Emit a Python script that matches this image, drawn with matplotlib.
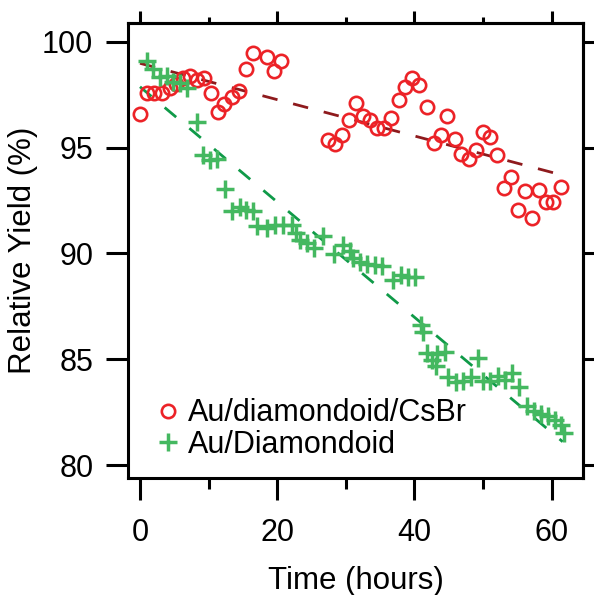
import matplotlib
matplotlib.use("Agg")
import matplotlib.pyplot as plt
import numpy as np

plt.rcParams['font.family'] = ['Liberation Sans', 'DejaVu Sans']

# ---- data ----
csbr_time = [0.0, 1.0, 2.1, 3.2, 4.3, 5.3, 6.3, 7.3, 8.3, 9.3, 10.3, 11.3, 12.3, 13.4,
             14.4, 15.4, 16.4, 18.5, 19.5, 20.6,
             27.4, 28.4, 29.4, 30.4, 31.5, 32.5, 33.5, 34.5, 35.6, 36.6, 37.7, 38.6,
             39.7, 40.7, 41.8, 42.9, 43.9, 44.8, 45.9, 46.8, 47.9, 49.0, 50.0, 51.0,
             52.0, 53.1, 54.1, 55.1, 56.1, 57.1, 58.2, 59.1, 60.2, 61.3]
csbr_yield = [96.6, 97.6, 97.6, 97.6, 97.8, 98.0, 98.3, 98.4, 98.2, 98.3, 97.6, 96.7, 97.05, 97.4,
              97.65, 98.7, 99.45, 99.3, 98.6, 99.1,
              95.35, 95.15, 95.6, 96.3, 97.1, 96.5, 96.3, 95.9, 95.9, 96.4, 97.25, 97.85,
              98.3, 97.95, 96.9, 95.2, 95.6, 96.5, 95.4, 94.7, 94.45, 94.9, 95.75, 95.5,
              94.65, 93.1, 93.6, 92.05, 92.95, 91.65, 93.0, 92.45, 92.45, 93.15]

dia_time = [1.0, 1.9, 2.9, 3.9, 4.8, 5.8, 6.8, 8.3, 9.2, 10.2, 11.2, 12.4, 13.4, 14.5,
            15.4, 16.5, 17.0, 18.5, 19.7, 20.9, 22.1, 22.8, 23.3, 24.3, 25.3, 26.7,
            28.2, 29.6, 30.6, 31.1, 32.1, 33.1, 34.2, 35.2, 36.9, 38.1, 39.1, 40.1,
            41.0, 41.2, 41.8, 42.6, 43.1, 43.3, 44.4, 44.9, 46.0, 47.0, 48.2, 49.3,
            50.0, 51.0, 52.2, 53.2, 54.2, 55.3, 56.4, 57.4, 58.4, 59.5, 60.5, 61.3, 61.8]
dia_yield = [99.1, 98.7, 98.35, 98.4, 98.1, 98.05, 97.8, 96.2, 94.65, 94.4, 94.45, 93.05, 92.0, 92.2,
             92.05, 92.0, 91.3, 91.2, 91.35, 91.35, 91.35, 90.95, 90.65, 90.5, 90.25, 90.8,
             89.95, 90.4, 90.1, 89.8, 89.6, 89.5, 89.45, 89.4, 88.75, 89.0, 88.9, 88.9,
             86.6, 86.3, 85.3, 84.95, 84.7, 85.25, 85.35, 84.15, 83.9, 83.95, 84.15, 85.05,
             83.95, 83.95, 84.2, 84.0, 84.35, 83.7, 82.8, 82.55, 82.4, 82.3, 82.15, 81.9, 81.5]

csbr_fit_time = [0.0, 61.5]
csbr_fit_yield = [98.98, 93.7]
dia_fit_time = [0.0, 61.6]
dia_fit_yield = [97.87, 81.1]

labels = ['Au/diamondoid/CsBr', 'Au/Diamondoid']
x_major = [0, 20, 40, 60]
x_minor = [10, 30, 50]
y_major = [80, 85, 90, 95, 100]

red = '#ec2227'
dark_red = '#8e1a1d'
green = '#44b860'
dark_green = '#0f9a48'

fig = plt.figure(figsize=(5.94, 5.95), dpi=100)
ax = fig.add_axes([128/594, 1-478/595, (583-128)/594, (478-23)/595])

ax.plot(csbr_fit_time, csbr_fit_yield, color=dark_red, lw=2.0, linestyle=(0, (5.6, 5.8)), zorder=2)
ax.plot(dia_fit_time, dia_fit_yield, color=dark_green, lw=2.0, linestyle=(0, (5.4, 6.2)), zorder=2)

ax.plot(csbr_time, csbr_yield, linestyle='none', marker='o', ms=9.6, mfc='none', mec=red,
        mew=1.9, label=labels[0], zorder=3)
ax.plot(dia_time, dia_yield, linestyle='none', marker='+', ms=12.5, mec=green,
        mew=2.5, label=labels[1], zorder=3)

ax.set_xlim(-1.75, 64.56)
ax.set_ylim(79.386, 100.884)

for s in ax.spines.values():
    s.set_linewidth(2.2)

ax.set_xticks(x_major)
ax.set_xticks(x_minor, minor=True)
ax.set_yticks(y_major)
ax.tick_params(axis='both', which='major', direction='out', length=16, width=2.2,
               labelsize=22, colors='black')
ax.tick_params(axis='x', which='major', pad=13)
ax.tick_params(axis='y', which='major', pad=9)
ax.tick_params(axis='x', which='minor', direction='out', length=8, width=2.2)

top = ax.secondary_xaxis('top')
top.set_xticks(x_major)
top.set_xticks(x_minor, minor=True)
top.tick_params(which='major', direction='out', length=8.6, width=2.2, labeltop=False)
top.tick_params(which='minor', direction='out', length=4.3, width=2.2)
top.spines['top'].set_linewidth(2.2)

right = ax.secondary_yaxis('right')
right.set_yticks(y_major)
right.tick_params(which='major', direction='out', length=8.6, width=2.2, labelright=False)
right.spines['right'].set_linewidth(2.2)

ax.set_xlabel('Time (hours)', fontsize=22.5, labelpad=13)
ax.set_ylabel('Relative Yield (%)', fontsize=22.5, labelpad=3)

ax.legend(loc='upper left', bbox_to_anchor=(0.058, 0.175), frameon=False, fontsize=22,
          handlelength=0.9, handletextpad=0.2, labelspacing=0.05, borderpad=0,
          borderaxespad=0)

fig.savefig('out.png', dpi=100)
